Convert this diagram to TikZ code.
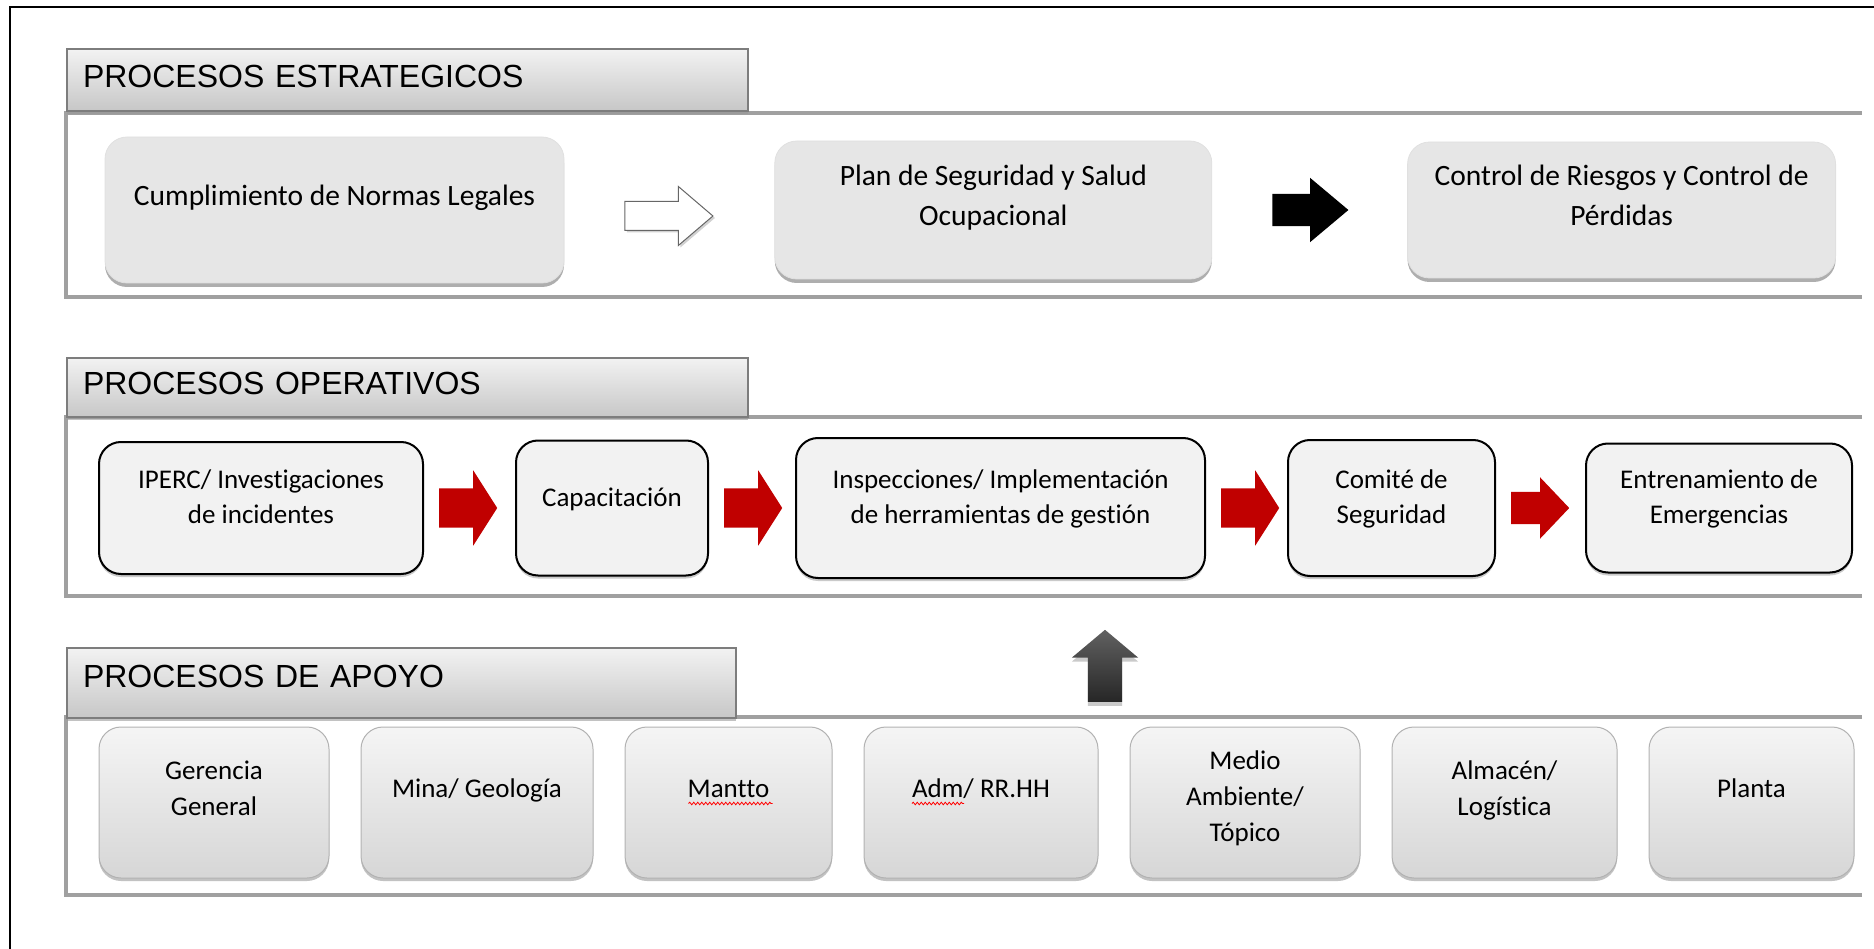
\documentclass[tikz,border=0pt]{standalone}
\usepackage{fontspec}
\setmainfont{Carlito}[Ligatures=NoCommon]
\newfontfamily\headfont{Liberation Sans}
\usepackage{tikz}
\usetikzlibrary{shapes.arrows, positioning, calc, shadows, decorations.pathmorphing}
\definecolor{panelline}{RGB}{160,160,160}
\definecolor{hdrline}{RGB}{125,125,125}
\definecolor{estfill}{RGB}{230,230,230}
\definecolor{opfill}{RGB}{242,242,242}
\definecolor{flowred}{RGB}{192,0,0}

% text sits a bit above the middle of the boxes
\newcommand{\boxtxt}[2][24pt]{\raisebox{0pt}[\height][\dimexpr\depth+#1\relax]{\begin{tabular}{@{}c@{}}#2\end{tabular}}}

\begin{document}
\begin{tikzpicture}[x=1pt, y=-1pt,
  node distance=31pt,
  panel/.style={draw=panelline, line width=3.5pt},
  header/.style={rectangle, draw=hdrline, line width=2pt, top color=black!5, bottom color=black!22,
                 anchor=north west, align=left, inner xsep=16pt, text height=23pt, text depth=8pt,
                 font=\headfont\fontsize{32}{38}\selectfont,
                 drop shadow={shadow xshift=0pt, shadow yshift=-3pt, fill=black!40, opacity=0.6}},
  estbox/.style={rectangle, rounded corners=22pt, fill=estfill, draw=black!12, line width=0.8pt,
                 inner sep=0pt, font=\fontsize{29.5}{40}\selectfont,
                 drop shadow={shadow xshift=0pt, shadow yshift=-4pt, fill=black!45, opacity=0.7}},
  opbox/.style={rectangle, rounded corners=22pt, fill=opfill, draw=black, line width=2pt,
                inner sep=0pt, font=\fontsize{27}{35}\selectfont,
                drop shadow={shadow xshift=0pt, shadow yshift=-3pt, fill=black!35, opacity=0.6}},
  apbox/.style={rectangle, rounded corners=22pt, top color=black!4, bottom color=black!16,
                draw=black!30, line width=1pt, inner sep=0pt, minimum height=151pt,
                font=\fontsize{27}{36}\selectfont,
                drop shadow={shadow xshift=0pt, shadow yshift=-3pt, fill=black!40, opacity=0.6}},
  spellmark/.style={draw=red, line width=0.8pt, decorate,
                    decoration={snake, amplitude=1.3pt, segment length=4pt}},
  blockarrow/.style={single arrow, inner xsep=0pt},
  redarrow/.style={blockarrow, fill=flowred, minimum height=58pt, inner ysep=19.5pt,
                   single arrow head extend=18pt, single arrow tip angle=115}
]
  \useasboundingbox (0,0) rectangle (1874,949);
  \draw[line width=1.3pt] (1880,7) -- (10,7) -- (10,960);

  % panels
  \draw[panel] (1862,113) -- (66,113) -- (66,297) -- (1862,297);
  \draw[panel] (1862,417) -- (66,417) -- (66,596) -- (1862,596);
  \draw[panel] (1862,717) -- (66,717) -- (66,895) -- (1862,895);

  \node[header, text width=649pt, minimum height=62pt] (hest) at (66,48) {PROCESOS ESTRATEGICOS};
  \node[header, text width=649pt, minimum height=59pt] (hop) at (66,357) {PROCESOS OPERATIVOS};
  \node[header, text width=637pt, minimum height=70pt, text depth=14pt] (hap) at (66,647) {PROCESOS DE APOYO};

  % estrategicos
  \node[estbox, minimum width=459pt, minimum height=146pt] (e1) at (334.5,210) {\boxtxt{Cumplimiento de Normas Legales}};
  \node[estbox, minimum width=437pt, minimum height=138pt, right=210pt of e1] (e2) {\boxtxt{Plan de Seguridad y Salud\\Ocupacional}};
  \node[estbox, minimum width=428pt, minimum height=136pt, right=195pt of e2] (e3) {\boxtxt{Control de Riesgos y Control de\\Pérdidas}};
  \node[blockarrow, draw=black!60, fill=white, line width=1pt, minimum height=88pt, inner ysep=14pt,
        single arrow head extend=15pt, single arrow tip angle=81, right=60pt of e1, yshift=-6pt,
        drop shadow={shadow xshift=2pt, shadow yshift=-2pt, fill=black!30, opacity=0.6}] (a1) {};
  \node[blockarrow, fill=black, minimum height=76pt, inner ysep=16pt,
        single arrow head extend=16pt, single arrow tip angle=80, right=60pt of e2] (a2) {};

  % operativos
  \node[opbox, minimum width=324pt, minimum height=132pt] (o1) at (261,508) {\boxtxt[18pt]{IPERC/ Investigaciones\\de incidentes}};
  \node[opbox, minimum width=192pt, minimum height=135pt, right=91pt of o1] (o2) {\boxtxt[18pt]{Capacitación}};
  \node[opbox, minimum width=409pt, minimum height=140pt, right=86pt of o2] (o3) {\boxtxt[18pt]{Inspecciones/ Implementación\\de herramientas de gestión}};
  \node[opbox, minimum width=207pt, minimum height=136pt, right=81pt of o3] (o4) {\boxtxt[18pt]{Comité de\\Seguridad}};
  \node[opbox, minimum width=266pt, minimum height=129pt, right=89pt of o4] (o5) {\boxtxt[18pt]{Entrenamiento de\\Emergencias}};
  \foreach \i in {1,2,3}
    \node[redarrow, right=15pt of o\i] (r\i) {};
  \node[redarrow, inner ysep=16pt, single arrow head extend=14.5pt, single arrow tip angle=93,
        right=15pt of o4] (r4) {};

  % apoyo
  \node[apbox, minimum width=230pt] (g1) at (214,802.5) {\boxtxt{Gerencia\\General}};
  \node[apbox, minimum width=232pt, right=of g1] (g2) {\boxtxt{Mina/ Geología}};
  \node[apbox, minimum width=207pt, right=of g2] (g3) {\boxtxt{Mantto}};
  \node[apbox, minimum width=234pt, right=of g3] (g4) {\boxtxt{Adm/ RR.HH}};
  \node[apbox, minimum width=230pt, right=of g4] (g5) {\boxtxt[8pt]{Medio\\Ambiente/\\Tópico}};
  \node[apbox, minimum width=225pt, right=of g5] (g6) {\boxtxt{Almacén/\\Logística}};
  \node[apbox, minimum width=205pt, right=of g6] (g7) {\boxtxt{Planta}};
  \draw[spellmark] ([xshift=-40pt, yshift=-1pt]g3.center) -- ([xshift=44pt, yshift=-1pt]g3.center);
  \draw[spellmark] ([xshift=-69pt, yshift=-1pt]g4.center) -- ([xshift=-17pt, yshift=-1pt]g4.center);
  \node[single arrow, shape border rotate=90, top color=black!62, bottom color=black!85,
        minimum height=72pt, inner xsep=17pt, inner ysep=0pt, single arrow head extend=16pt,
        single arrow tip angle=100, anchor=tail,
        drop shadow={shadow xshift=0pt, shadow yshift=-4pt, fill=black!35, opacity=0.6}]
        (up) at (1105,702) {};
\end{tikzpicture}
\end{document}
